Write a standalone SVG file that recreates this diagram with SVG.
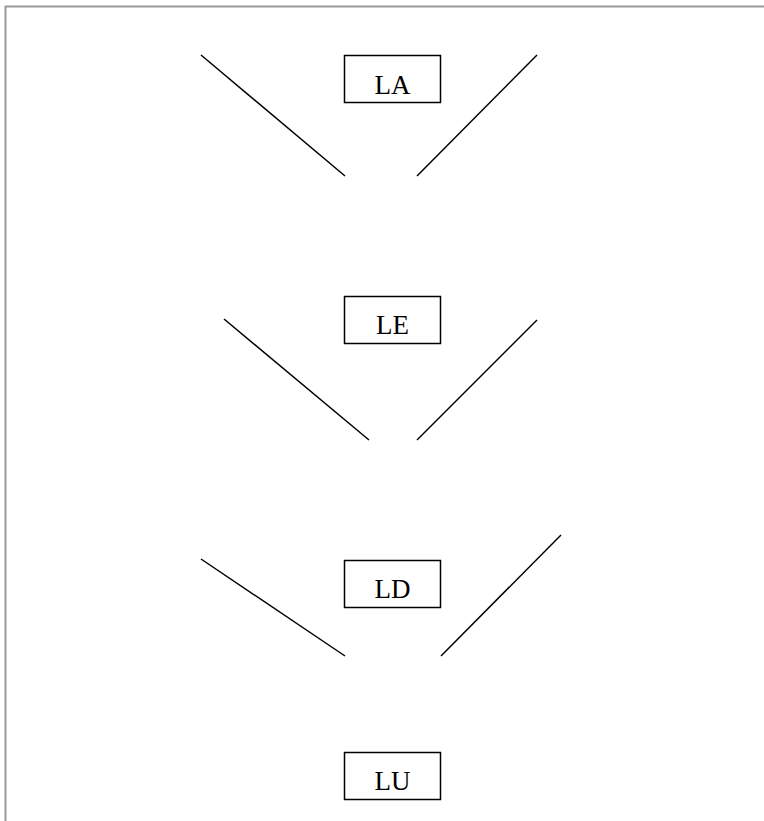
<svg xmlns="http://www.w3.org/2000/svg" width="764" height="821" viewBox="0 0 764 821">
<style>
.box{fill:#fff;stroke:#000;stroke-width:1.5}
.lbl{font-family:"Liberation Serif","Times New Roman",serif;font-size:27px;fill:#000;text-anchor:middle}
.edge{stroke:#000;stroke-width:1.5;fill:none}
</style>
<rect width="764" height="821" fill="#fff"/>
<path d="M5.5 821 V6.5 H764" fill="none" stroke="#999" stroke-width="2"/>
<g id="connectors">
<line class="edge" x1="201" y1="55" x2="345" y2="176"/>
<line class="edge" x1="537" y1="55" x2="417" y2="176"/>
<line class="edge" x1="224" y1="319" x2="369" y2="440"/>
<line class="edge" x1="537" y1="320" x2="417" y2="440"/>
<line class="edge" x1="201" y1="559" x2="345" y2="656"/>
<line class="edge" x1="561" y1="535" x2="441" y2="656"/>
</g>
<g id="LA"><rect class="box" x="344.5" y="55.5" width="96" height="47"/><text class="lbl" x="392.5" y="94">LA</text></g>
<g id="LE"><rect class="box" x="344.5" y="296.5" width="96" height="47"/><text class="lbl" x="392.5" y="334">LE</text></g>
<g id="LD"><rect class="box" x="344.5" y="560.5" width="96" height="47"/><text class="lbl" x="392.5" y="598">LD</text></g>
<g id="LU"><rect class="box" x="344.5" y="752.5" width="96" height="47"/><text class="lbl" x="392.5" y="790">LU</text></g>
</svg>
